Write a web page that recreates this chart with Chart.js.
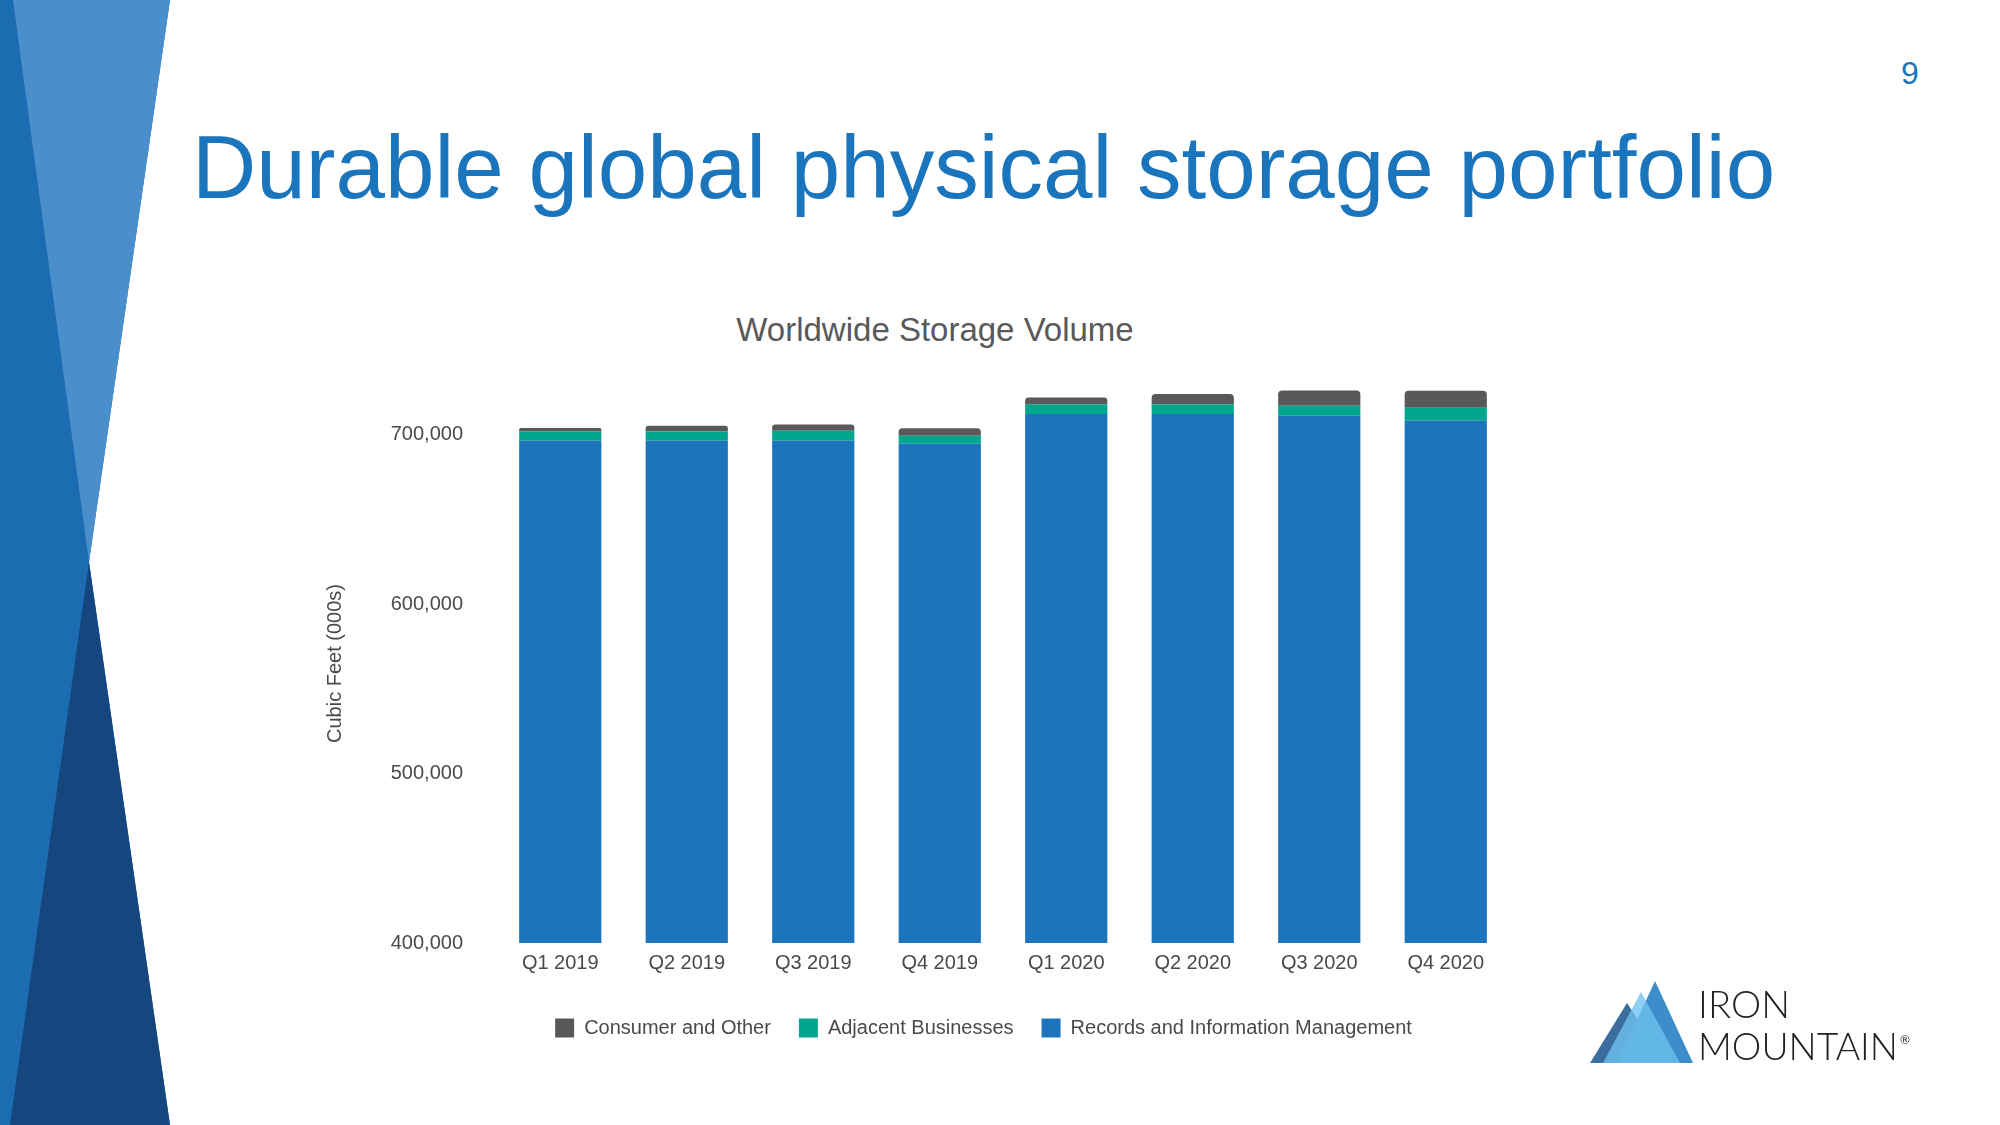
<!DOCTYPE html>
<html>
<head>
<meta charset="utf-8">
<title>Durable global physical storage portfolio</title>
<script src="https://cdn.jsdelivr.net/npm/chart.js@4"></script>
<style>
  html, body { margin: 0; padding: 0; background: #fff; }
  body { width: 2000px; height: 1125px; position: relative; overflow: hidden;
         font-family: 'Liberation Sans', Arial, sans-serif; }
  .deco { position: absolute; left: 0; top: 0; }
  .slide-title { position: absolute; left: 192px; top: 123px; font-size: 89px; line-height: 89px;
                 color: #1b75bc; white-space: nowrap; }
  .page-num { position: absolute; left: 1880px; top: 53px; width: 60px; text-align: center;
              font-size: 32px; line-height: 40px; color: #1b75bc; }
  .chart-title { position: absolute; left: 535px; top: 310px; width: 800px; text-align: center;
                 font-size: 33px; line-height: 40px; color: #595959; }
  .chart-box { position: absolute; left: 300px; top: 370px; width: 1367px; height: 678px; }
  .logo { position: absolute; left: 1580px; top: 970px; }
</style>
</head>
<body>

<!-- left side bands -->
<svg class="deco" width="200" height="1125">
  <polygon points="0,0 170,0 89,562 170,1125 0,1125" fill="#1c6cb2"/>
  <polygon points="13,0 170,0 89,562" fill="#4a8fcb"/>
  <polygon points="89,562 170,1125 10,1125" fill="#15467e"/>
</svg>

<div class="slide-title">Durable global physical storage portfolio</div>
<div class="page-num">9</div>
<div class="chart-title">Worldwide Storage Volume</div>

<div class="chart-box"><canvas id="storage-chart"></canvas></div>

<!-- logo -->
<svg class="logo" width="360" height="110">
  <polygon points="10,93 47,33 87,93" fill="#3b6e9e"/>
  <polygon points="37,93 75,11 113,93" fill="#3d8dca"/>
  <polygon points="23,93 61,22 100,93" fill="rgba(110,195,240,0.78)"/>
  <text x="118" y="48" font-family="Lato, 'Open Sans', sans-serif" font-weight="300" font-size="37"
        fill="#222" textLength="92" lengthAdjust="spacingAndGlyphs">IRON</text>
  <text x="118" y="90" font-family="Lato, 'Open Sans', sans-serif" font-weight="300" font-size="37"
        fill="#222" textLength="200" lengthAdjust="spacingAndGlyphs">MOUNTAIN</text>
  <text x="320" y="74" font-family="Lato, sans-serif" font-size="12" fill="#222">®</text>
</svg>

<script>
// ── Dados ─────────────────────────────────────────────
const quarters = ['Q1 2019', 'Q2 2019', 'Q3 2019', 'Q4 2019', 'Q1 2020', 'Q2 2020', 'Q3 2020', 'Q4 2020'];
const rimVolume = [696500, 696500, 696500, 694700, 712300, 712300, 711300, 708300];
const adjacentVolume = [5500, 5500, 5900, 4700, 5700, 5700, 5900, 7700];
const consumerVolume = [2000, 3400, 3700, 4500, 4000, 6100, 8900, 10000];
const yTicks = [400000, 500000, 600000, 700000];

// ── Cores ─────────────────────────────────────────────
const colors = {
  rim: '#1c75bc',
  adjacent: '#00a78e',
  consumer: '#595959',
  text: '#4a4a4a',
};

Chart.defaults.font.family = "'Liberation Sans', Arial, sans-serif";
Chart.defaults.color = colors.text;

// ordem de empilhamento: RIM embaixo, consumer no topo
new Chart(document.getElementById('storage-chart'), {
  type: 'bar',
  data: {
    labels: quarters,
    datasets: [
      { label: 'Records and Information Management', data: rimVolume, backgroundColor: colors.rim },
      { label: 'Adjacent Businesses', data: adjacentVolume, backgroundColor: colors.adjacent },
      { label: 'Consumer and Other', data: consumerVolume, backgroundColor: colors.consumer, borderRadius: 4 },
    ],
  },
  options: {
    responsive: true,
    maintainAspectRatio: false,
    animation: false,
    datasets: { bar: { categoryPercentage: 1, barPercentage: 0.65 } },
    layout: { padding: { top: 14, right: 0, bottom: 0, left: 0 } },
    plugins: {
      legend: {
        position: 'bottom',
        reverse: true,
        labels: {
          boxWidth: 19,
          boxHeight: 19,
          padding: 28,
          color: colors.text,
          font: { size: 20 },
        },
      },
      tooltip: { enabled: false },
    },
    scales: {
      x: {
        stacked: true,
        grid: { display: false, drawTicks: false },
        border: { display: false },
        ticks: { color: colors.text, font: { size: 20 }, padding: 8, maxRotation: 0 },
        afterFit: (scale) => { scale.height = 47; },
      },
      y: {
        stacked: true,
        min: yTicks[0],
        max: 730000,
        grid: { display: false, drawTicks: false },
        border: { display: false },
        afterBuildTicks: (scale) => { scale.ticks = yTicks.map((v) => ({ value: v })); },
        afterFit: (scale) => {
          scale.width = 197;
          scale.paddingTop = 0;
          scale.paddingBottom = 0;
        },
        ticks: {
          color: colors.text,
          font: { size: 20 },
          padding: 34,
          callback: (v) => v.toLocaleString('en-US'),
        },
        title: {
          display: true,
          text: 'Cubic Feet (000s)',
          color: colors.text,
          font: { size: 20 },
          padding: { top: 23, bottom: 0 },
        },
      },
      // espaço vazio à direita, só pra centralizar a legenda como no slide
      spacer: {
        type: 'linear',
        position: 'right',
        grid: { display: false, drawTicks: false },
        border: { display: false },
        ticks: { display: false },
        afterFit: (scale) => {
          scale.width = 158;
          scale.paddingTop = 0;
          scale.paddingBottom = 0;
        },
      },
    },
  },
});
</script>
</body>
</html>
